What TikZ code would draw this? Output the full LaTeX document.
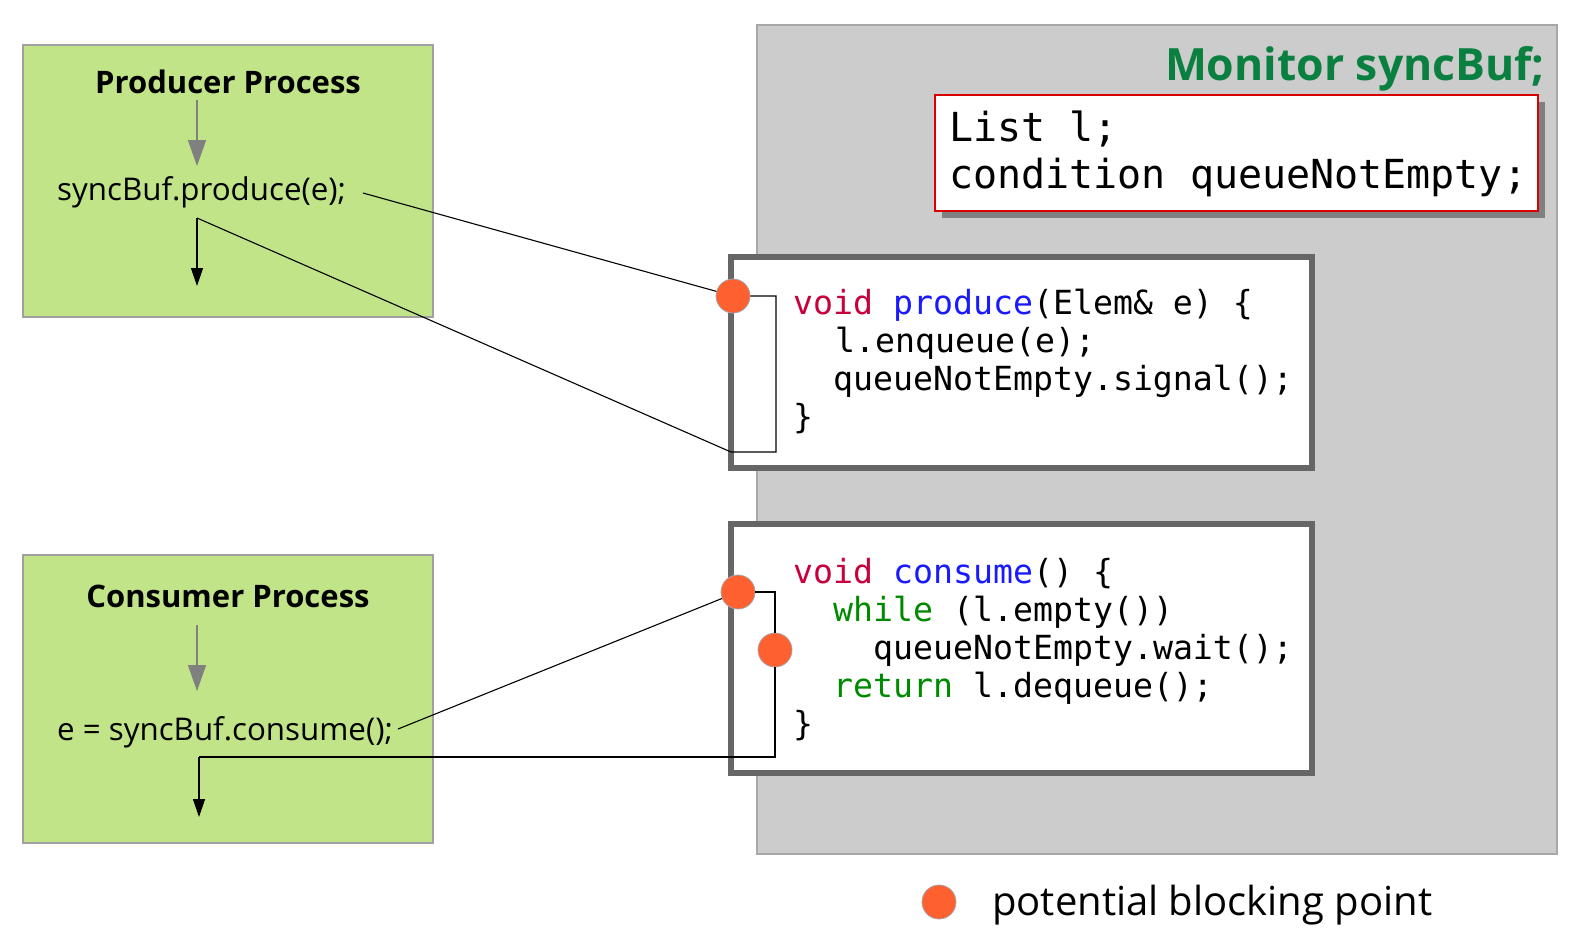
\documentclass[tikz,border=0pt]{standalone}
\usepackage{fontspec}
\setmainfont{Open Sans}
\setmonofont{DejaVu Sans Mono}
\usetikzlibrary{arrows.meta}
\definecolor{procgreen}{HTML}{C0E487}
\definecolor{procborder}{HTML}{A0A0A0}
\definecolor{monfill}{HTML}{CCCCCC}
\definecolor{monborder}{HTML}{A8A8A8}
\definecolor{codeborder}{HTML}{666666}
\definecolor{dotorange}{HTML}{FF6030}
\definecolor{kwred}{HTML}{C8003C}
\definecolor{kwblue}{HTML}{1A1AFF}
\definecolor{kwgreen}{HTML}{008A00}
\definecolor{titlegreen}{HTML}{0A8040}
\definecolor{shadowgray}{HTML}{808080}
\tikzset{
  procbox/.style={draw=procborder, fill=procgreen, line width=1.2pt},
  codebox/.style={draw=codeborder, fill=white, line width=6pt},
  blockdot/.style={circle, fill=dotorange, draw=gray!70, line width=0.8pt, minimum size=34pt, inner sep=0pt},
  grayarrow/.style={draw=gray, line width=1.5pt, -{Triangle[width=18pt,length=26pt]}},
  blackarrow/.style={draw=black, line width=1.3pt, -{Triangle[width=12pt,length=18pt]}},
  link/.style={draw=black, line width=1.1pt},
  proctitle/.style={font=\fontsize{31}{36}\selectfont\bfseries, anchor=base, inner sep=0pt},
  stmt/.style={font=\fontsize{31.3}{36}\selectfont, anchor=base west, inner sep=0pt},
  code/.style={font=\fontsize{33.2}{38}\ttfamily, anchor=base west, inner sep=0pt},
  monvar/.style={font=\fontsize{40}{46}\ttfamily, anchor=base west, inner sep=0pt},
}
\begin{document}
\begin{tikzpicture}[x=1pt, y=-1pt]
\useasboundingbox (0,0) rectangle (1570,930);

% Monitor background
\draw[draw=monborder, fill=monfill, line width=1.2pt] (757,25) rectangle (1557,854);
\node[font=\fontsize{44.5}{50}\selectfont\bfseries, text=titlegreen, anchor=base east, inner sep=0pt] (montitle) at (1545,80) {Monitor syncBuf;};

% variables box with shadow
\fill[shadowgray] (942,102) rectangle (1545,218);
\draw[draw=red!85!black, fill=white, line width=1.2pt] (935,95) rectangle (1538,211);
\node[monvar] (var1) at (949,141) {List l;};
\node[monvar] (var2) at (949,188) {condition queueNotEmpty;};

% code boxes
\draw[codebox] (731,257) rectangle (1312,468);
\draw[codebox] (731,524) rectangle (1312,773);

% produce code
\node[code] (p1) at (793,314) {\textcolor{kwred}{void} \textcolor{kwblue}{produce}(Elem\& e) \{};
\node[code] (p2) at (835,352) {l.enqueue(e);};
\node[code] (p3) at (833,390) {queueNotEmpty.signal();};
\node[code] (p4) at (793,428) {\}};

% consume code
\node[code] (c1) at (793,583) {\textcolor{kwred}{void} \textcolor{kwblue}{consume}() \{};
\node[code] (c2) at (833,621) {\textcolor{kwgreen}{while} (l.empty())};
\node[code] (c3) at (873,659) {queueNotEmpty.wait();};
\node[code] (c4) at (833,697) {\textcolor{kwgreen}{return} l.dequeue();};
\node[code] (c5) at (793,735) {\}};

% process boxes
\draw[procbox] (23,45) rectangle (433,317);
\draw[procbox] (23,555) rectangle (433,843);
\node[proctitle] (ptitle) at (228,93) {Producer Process};
\node[stmt] (pstmt) at (57,200) {syncBuf.produce(e);};
\node[proctitle] (ctitle) at (228,607) {Consumer Process};
\node[stmt] (cstmt) at (57,740) {e = syncBuf.consume();};

\coordinate (pga) at (197,100);
\coordinate (pgb) at (197,166);
\draw[grayarrow] (pga) -- (pgb);
\coordinate (cga) at (197,625);
\coordinate (cgb) at (197,691);
\draw[grayarrow] (cga) -- (cgb);

% producer connectors
\node[blockdot] (d1) at (733,296) {};
\coordinate (pout) at (363,193);
\coordinate (pbr1) at (776,296);
\coordinate (pbr2) at (776,452);
\coordinate (pbr3) at (731,452);
\coordinate (pret) at (197,218);
\coordinate (pend) at (197,286);
\draw[link] (pout) -- (d1);
\draw[link] (d1.east) -- (pbr1) -- (pbr2) -- (pbr3) -- (pret);
\draw[blackarrow] (pret) -- (pend);

% consumer connectors
\node[blockdot] (d2) at (738,592) {};
\node[blockdot] (d3) at (775,650) {};
\coordinate (cout) at (398,729);
\coordinate (cbr1) at (775,592);
\coordinate (cbr2) at (775,757);
\coordinate (cret) at (199,757);
\coordinate (cend) at (199,817);
\draw[link] (cout) -- (d2);
\draw[link] (d2.east) -- (cbr1) -- (d3.north);
\draw[link] (d3.south) -- (cbr2) -- (cret);
\draw[blackarrow] (cret) -- (cend);

% legend
\node[blockdot] (ld) at (939,902) {};
\node[font=\fontsize{40}{46}\selectfont, anchor=base west, inner sep=0pt] (legend) at (992,915) {potential blocking point};
\end{tikzpicture}
\end{document}
